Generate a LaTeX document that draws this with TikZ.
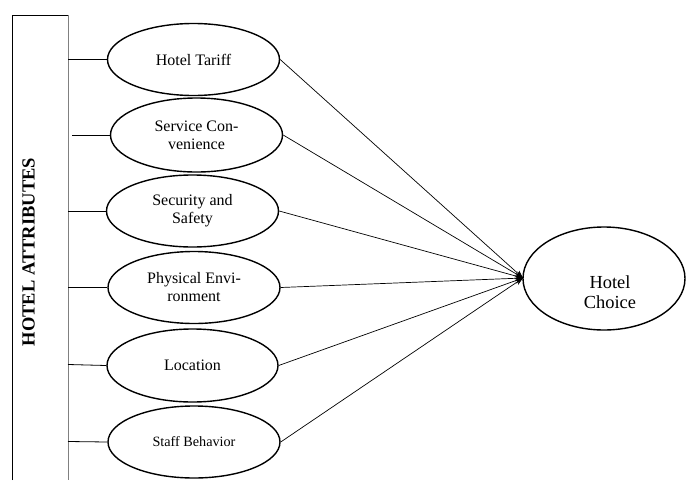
\documentclass[tikz,border=0pt]{standalone}
\usepackage{fontspec}
\setmainfont{Liberation Serif}
\usetikzlibrary{shapes.geometric,arrows.meta}
\begin{document}
\begin{tikzpicture}[x=1pt,y=-1pt,
  attr/.style={draw, ellipse, line width=1.4pt, minimum width=172pt, minimum height=72pt,
    inner sep=0pt, align=center, font=\fontsize{16}{18}\selectfont},
  tick/.style={line width=0.8pt},
  conn/.style={line width=0.7pt, -{Stealth[length=8pt,width=6pt]}}]
\useasboundingbox (0,0) rectangle (686,480);
% left box
\draw[line width=1pt] (12.5,480) -- (12.5,15) -- (68,15);
\draw[line width=1pt, gray] (68,15) -- (68,480);
\node[rotate=90, font=\fontsize{18.5}{20}\selectfont\bfseries] (ha) at (28.5,252) {HOTEL ATTRIBUTES};
\coordinate (b1) at (68,59.5);
\coordinate (b2) at (72,135);
\coordinate (b3) at (68,211);
\coordinate (b4) at (68,287.5);
\coordinate (b5) at (68,364.5);
\coordinate (b6) at (68,441.5);
% attribute ellipses
\node[attr] (e1) at (193.5,59.5) {Hotel Tariff};
\node[attr, minimum height=74pt] (e2) at (196.5,135) {Service Con-\\venience};
\node[attr] (e3) at (192.5,211) {Security and\\Safety};
\node[attr] (e4) at (194,287.5) {Physical Envi-\\ronment};
\node[attr, minimum height=73pt, minimum width=171pt] (e5) at (192.5,365.5) {Location};
\node[attr, font=\fontsize{14.2}{16}\selectfont] (e6) at (194,442) {Staff Behavior};
% hotel choice
\node[draw, ellipse, line width=1.4pt, minimum width=162pt, minimum height=103pt, inner sep=0pt] (hc) at (604,278.5) {};
\node[align=center, font=\fontsize{18.4}{20.5}\selectfont, inner sep=0pt] (hct) at (610,292) {Hotel\\Choice};
% ticks
\foreach \i in {1,...,6} \draw[tick] (b\i) -- (e\i.west);
% connectors
\coordinate (tip) at (523,278);
\draw[conn] (e1.east) -- (tip);
\draw[conn] (e2.east) -- (tip);
\draw[conn] (e3.east) -- (tip);
\draw[conn] (e4.east) -- (tip);
\draw[conn] (e5.east) -- (tip);
\draw[conn] (e6.east) -- (tip);
\end{tikzpicture}
\end{document}
